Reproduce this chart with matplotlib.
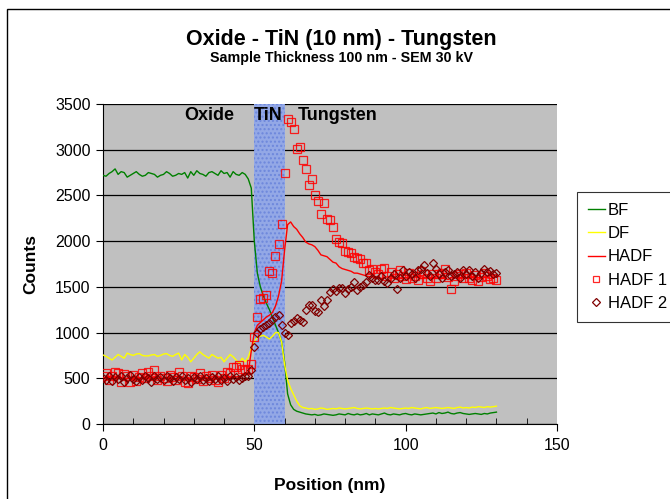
import matplotlib
matplotlib.use("Agg")
import matplotlib.pyplot as plt
from matplotlib.patches import Rectangle
from matplotlib.ticker import MultipleLocator
import numpy as np

plt.rcParams['font.family'] = ['Liberation Sans', 'DejaVu Sans']

# position in nm, one sample per nm
position = np.arange(0, 131)

bf = [
    2720, 2710, 2740, 2760, 2790, 2730, 2760, 2750, 2700, 2720,
    2740, 2760, 2730, 2710, 2720, 2750, 2740, 2730, 2700, 2720,
    2730, 2760, 2740, 2710, 2720, 2740, 2730, 2750, 2690, 2760,
    2720, 2770, 2740, 2730, 2710, 2750, 2760, 2740, 2720, 2770,
    2740, 2750, 2700, 2760, 2730, 2720, 2750, 2730, 2680, 2580,
    2000, 1650, 1500, 1400, 1320, 1250, 1170, 1080, 1000, 900,
    680, 330, 210, 160, 140, 130, 120, 110, 105, 100,
    105, 95, 100, 110, 105, 100, 95, 100, 110, 105,
    100, 115, 105, 100, 110, 100, 105, 115, 100, 110,
    105, 100, 110, 120, 105, 100, 110, 105, 100, 110,
    115, 105, 100, 110, 105, 100, 105, 110, 115, 120,
    110, 125, 115, 120, 130, 115, 110, 120, 125, 115,
    110, 105, 110, 115, 110, 105, 115, 110, 120, 125,
    130,
]

df = [
    755, 740, 720, 700, 730, 760, 740, 720, 775, 760,
    750, 765, 770, 750, 745, 745, 755, 760, 740, 750,
    765, 770, 750, 740, 760, 775, 700, 760, 730, 680,
    720, 760, 790, 760, 740, 720, 760, 740, 720, 730,
    680, 720, 760, 735, 700, 665, 720, 680, 730, 830,
    900, 950, 960, 970, 950, 930, 960, 1000, 1000, 900,
    650, 480, 390, 320, 250, 200, 180, 175, 165, 170,
    160, 165, 175, 170, 160, 165, 170, 165, 175, 170,
    165, 170, 175, 180, 170, 165, 170, 175, 170, 165,
    170, 165, 170, 175, 170, 180, 175, 170, 165, 170,
    175, 170, 180, 175, 170, 165, 175, 180, 170, 175,
    180, 175, 170, 175, 180, 175, 170, 180, 185, 175,
    180, 175, 185, 180, 190, 185, 180, 190, 185, 190,
    195,
]

hadf = [
    510, 500, 520, 490, 500, 510, 505, 495, 500, 510,
    505, 500, 490, 510, 500, 495, 505, 510, 500, 495,
    500, 505, 510, 500, 490, 500, 505, 500, 510, 495,
    500, 505, 495, 500, 510, 500, 490, 505, 500, 510,
    505, 500, 510, 520, 515, 520, 530, 540, 560, 800,
    1000, 1080, 1110, 1140, 1170, 1190, 1220, 1290, 1400, 1560,
    1900, 2180, 2210, 2160, 2130, 2080, 2040, 1990, 1970, 1960,
    1940, 1900, 1850, 1840, 1830, 1800, 1770, 1760, 1720, 1700,
    1690, 1680, 1670, 1650, 1650, 1640, 1630, 1620, 1610, 1610,
    1600, 1600, 1590, 1600, 1610, 1590, 1600, 1580, 1600, 1590,
    1600, 1590, 1600, 1610, 1600, 1590, 1600, 1610, 1590, 1600,
    1610, 1600, 1590, 1600, 1580, 1600, 1610, 1590, 1600, 1610,
    1600, 1590, 1600, 1610, 1600, 1590, 1610, 1600, 1590, 1600,
    1610,
]

hadf1 = [
    520, 560, 480, 520, 570, 560, 460, 550, 520, 460,
    540, 470, 510, 560, 500, 570, 520, 590, 480, 530,
    500, 470, 540, 510, 480, 570, 520, 460, 450, 530,
    510, 490, 560, 470, 520, 500, 535, 480, 460, 540,
    500, 570, 560, 620, 625, 645, 600, 590, 600, 660,
    950, 1170, 1370, 1380, 1410, 1670, 1650, 1840, 1970, 2190,
    2740, 3340, 3300, 3225, 3010, 3030, 2890, 2790, 2615, 2680,
    2505, 2440, 2300, 2420, 2240, 2230, 2155, 2025, 1990, 1980,
    1890, 1880, 1870, 1830, 1815, 1800, 1760, 1760, 1685, 1700,
    1660, 1640, 1690, 1710, 1620, 1660, 1600, 1640, 1680, 1620,
    1590, 1650, 1600, 1620, 1580, 1670, 1640, 1600, 1560, 1640,
    1600, 1640, 1650, 1690, 1610, 1480, 1560, 1620, 1640, 1600,
    1650, 1600, 1580, 1630, 1560, 1610, 1650, 1620, 1590, 1600,
    1580,
]

hadf2 = [
    500, 480, 520, 470, 510, 490, 530, 460, 500, 540,
    490, 470, 510, 480, 520, 500, 460, 530, 490, 510,
    480, 520, 500, 470, 510, 490, 530, 480, 500, 460,
    510, 490, 520, 480, 500, 470, 510, 490, 530, 480,
    500, 470, 520, 490, 510, 480, 500, 520, 530, 590,
    840, 1000, 1040, 1060, 1080, 1110, 1140, 1170, 1190, 1080,
    990, 970, 1100, 1130, 1160, 1140, 1115, 1250, 1300, 1300,
    1240, 1225, 1360, 1290, 1360, 1445, 1475, 1460, 1490, 1490,
    1430, 1480, 1500, 1550, 1465, 1500, 1520, 1550, 1630, 1600,
    1580, 1575, 1620, 1560, 1540, 1600, 1640, 1475, 1600, 1685,
    1620, 1660, 1640, 1600, 1685, 1700, 1740, 1650, 1620, 1760,
    1700, 1640, 1600, 1660, 1685, 1620, 1640, 1660, 1600, 1680,
    1640, 1685, 1620, 1660, 1600, 1650, 1700, 1660, 1675, 1640,
    1650,
]

# layer boundaries (nm) and labels
tin_span = (50, 60)
layer_labels = ["Oxide", "TiN", "Tungsten"]
layer_label_x = [27, 49.8, 64.5]

fig = plt.figure(figsize=(6.7, 4.99), dpi=100)
ax = fig.add_axes([0.1537, 0.1503, 0.6776, 0.6413])
ax.set_facecolor('#c0c0c0')

# outer chart frame
fig.patches.append(Rectangle((7 / 670, -0.1), 1.2, 1 - 9 / 499 + 0.1,
                             transform=fig.transFigure, fill=False,
                             edgecolor='black', linewidth=1.0, zorder=0))

ax.set_xlim(0, 150)
ax.set_ylim(0, 3500)
ax.yaxis.set_major_locator(MultipleLocator(500))
ax.xaxis.set_major_locator(MultipleLocator(50))
ax.xaxis.set_minor_locator(MultipleLocator(10))
ax.grid(axis='y', color='black', linewidth=0.9, zorder=1)
ax.set_axisbelow(True)

ax.axvspan(*tin_span, facecolor='#93a8e6', edgecolor='#6d87dc', hatch='....',
           linewidth=0, zorder=1.5)

ax.plot(position, bf, color='#008000', lw=1.0, label='BF', zorder=3)
ax.plot(position, df, color='#ffff00', lw=1.0, label='DF', zorder=3)
ax.plot(position, hadf, color='#ff0000', lw=1.0, label='HADF', zorder=3)
ax.plot(position, hadf1, ls='none', marker='s', ms=5.5, mfc='none',
        mec='#ff0000', mew=0.9, alpha=0.85, label='HADF 1', zorder=4)
ax.plot(position, hadf2, ls='none', marker='D', ms=4.5, mfc='none',
        mec='#800000', mew=0.9, label='HADF 2', zorder=4)

for lab, lx in zip(layer_labels, layer_label_x):
    ax.text(lx, 3370, lab, fontsize=13, fontweight='bold', ha='left',
            va='center', zorder=5)

for side in ['top', 'right']:
    ax.spines[side].set_visible(False)
ax.spines['left'].set_color('black')
ax.spines['bottom'].set_color('black')

ax.tick_params(axis='x', which='major', direction='out', length=5,
               labelsize=11.5, pad=5)
ax.tick_params(axis='x', which='minor', direction='in', length=4)
ax.tick_params(axis='y', which='major', direction='out', length=5,
               labelsize=11.5, pad=4)

ax.set_xlabel('Position (nm)', fontsize=12.5, fontweight='bold', labelpad=18)
ax.set_ylabel('Counts', fontsize=12.5, fontweight='bold', labelpad=12)

fig.text(0.509, 1 - 39 / 499, 'Oxide - TiN (10 nm) - Tungsten', fontsize=15.5,
         fontweight='bold', ha='center', va='center')
fig.text(0.509, 1 - 58 / 499, 'Sample Thickness 100 nm - SEM 30 kV',
         fontsize=10.3, fontweight='bold', ha='center', va='center')

leg = fig.legend(loc='upper left', bbox_to_anchor=(577 / 670, 1 - 192 / 499),
                 fontsize=12, frameon=True, fancybox=False, borderpad=0.65,
                 handlelength=1.0, handletextpad=0.2, labelspacing=0.5,
                 borderaxespad=0, markerscale=0.8)
leg.get_frame().set_edgecolor('black')
leg.get_frame().set_linewidth(0.8)

fig.savefig('out.png', dpi=100)
